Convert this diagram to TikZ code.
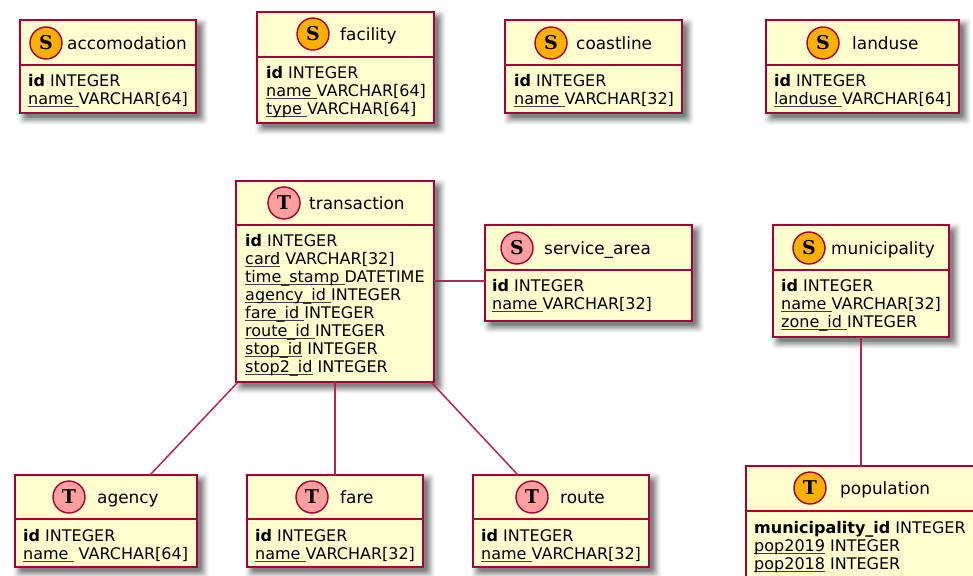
\documentclass[tikz,border=0pt]{standalone}
\usepackage{fontspec}
\setmainfont{DejaVu Sans}
\newfontfamily\spotfont{DejaVu Serif}
\usetikzlibrary{calc}
\definecolor{umlred}{HTML}{A80036}
\definecolor{umlfill}{HTML}{FEFECE}
\definecolor{spotS}{HTML}{FFB000}
\definecolor{spotT}{HTML}{FF9F9F}
\tikzset{
  entbox/.style={draw=umlred,fill=umlfill,line width=2.3pt,rectangle,inner sep=0pt,outer sep=0pt},
  spot/.style={circle,draw=umlred,line width=1.4pt,minimum size=32pt,inner sep=0pt,font=\spotfont\bfseries\fontsize{19}{19}\selectfont},
  titletext/.style={anchor=base west,inner sep=0pt,font=\fontsize{16.9}{18}\selectfont},
  bodytext/.style={anchor=base west,inner sep=0pt,font=\fontsize{16}{18}\selectfont},
  rel/.style={draw=umlred!85!white,line width=1.5pt},
}
\newlength{\ulwd}
\newcommand{\ul}[1]{\leavevmode\settowidth{\ulwd}{#1}\rlap{\color{black!75}\rule[-2.4pt]{\ulwd}{0.9pt}}#1}
% name, x1, y1, x2, y2, separator y
\newcommand{\entity}[6]{%
  \foreach \s/\o in {9/.025,8/.035,7/.05,6/.06,5/.07,4/.08,3/.09,2/.10,1/.11}{
    \fill[black,opacity=\o,rounded corners=3pt] (#2+5-\s+2,#3+5-\s+2) rectangle (#4+5+\s-2,#5+5+\s-2);
  }
  \node[entbox,minimum width={(#4-#2)*1pt},minimum height={(#5-#3)*1pt}] (#1) at ({(#2+#4)/2},{(#3+#5)/2}) {};
  \draw[umlred,line width=1.8pt] (#2,#6) -- (#4,#6);
}
\newcommand{\titleof}[4]{\node[titletext] (#1label) at (#2,#3+6.7) {#4};}
\newcommand{\bodyof}[4]{%
  \foreach \t [count=\i] in {#4}{
    \node[bodytext,name=#1line\i] at (#2,{#3+6.6+(\i-1)*18}) {\t};
  }
}
\begin{document}
\begin{tikzpicture}[x=1pt,y=-1pt]
\useasboundingbox (0,0) rectangle (973,575);
\clip (0,0) rectangle (973,575);
\fill[white] (0,0) rectangle (973,575);

\entity{accomodation}{20}{20}{196}{113}{65}
\node[spot,fill=spotS] (accomodationspot) at (46,43) {S};
\titleof{accomodation}{67}{43}{accomodation}
\bodyof{accomodation}{28}{80}{{\textbf{id} INTEGER},{\ul{name\ }VARCHAR[64]}}

\entity{facility}{257}{12}{434}{123}{57}
\node[spot,fill=spotS] (facilityspot) at (313,34) {S};
\titleof{facility}{340}{34}{facility}
\bodyof{facility}{266}{72}{{\textbf{id} INTEGER},{\ul{name\ }VARCHAR[64]},{\ul{type\ }VARCHAR[64]}}

\entity{coastline}{505}{20}{682}{113}{65}
\node[spot,fill=spotS] (coastlinespot) at (551,43) {S};
\titleof{coastline}{576}{43}{coastline}
\bodyof{coastline}{514}{80}{{\textbf{id} INTEGER},{\ul{name\ }VARCHAR[32]}}

\entity{landuse}{766}{20}{959}{113}{65}
\node[spot,fill=spotS] (landusespot) at (823,43) {S};
\titleof{landuse}{852}{43}{landuse}
\bodyof{landuse}{774}{80}{{\textbf{id} INTEGER},{\ul{landuse\ }VARCHAR[64]}}

\entity{transaction}{236}{181}{434}{382}{225}
\node[spot,fill=spotT] (transactionspot) at (284,203) {T};
\titleof{transaction}{309}{203}{transaction}
\bodyof{transaction}{245}{240}{{\textbf{id} INTEGER},{\ul{card} VARCHAR[32]},{\ul{time\_stamp\ }DATETIME},{\ul{agency\_id\ }INTEGER},{\ul{fare\_id\ }INTEGER},{\ul{route\_id\ }INTEGER},{\ul{stop\_id} INTEGER},{\ul{stop2\_id} INTEGER}}

\entity{servicearea}{485}{225}{692}{321}{270}
\node[spot,fill=spotT] (serviceareaspot) at (517,248) {S};
\titleof{servicearea}{544}{248}{service\_area}
\bodyof{servicearea}{492}{285}{{\textbf{id} INTEGER},{\ul{name\ }VARCHAR[32]}}

\entity{municipality}{773}{225}{949}{337}{270}
\node[spot,fill=spotS] (municipalityspot) at (809,248) {S};
\titleof{municipality}{831}{248}{municipality}
\bodyof{municipality}{781}{285}{{\textbf{id} INTEGER},{\ul{name\ }VARCHAR[32]},{\ul{zone\_id\ }INTEGER}}

\entity{agency}{15}{475}{197}{567}{519}
\node[spot,fill=spotT] (agencyspot) at (69,497) {T};
\titleof{agency}{97}{497}{agency}
\bodyof{agency}{23}{535}{{\textbf{id} INTEGER},{\ul{name\ }\ VARCHAR[64]}}

\entity{fare}{247}{475}{423}{567}{519}
\node[spot,fill=spotT] (farespot) at (312,497) {T};
\titleof{fare}{340}{497}{fare}
\bodyof{fare}{255}{535}{{\textbf{id} INTEGER},{\ul{name\ }VARCHAR[32]}}

\entity{route}{473}{475}{649}{567}{519}
\node[spot,fill=spotT] (routespot) at (532,497) {T};
\titleof{route}{560}{497}{route}
\bodyof{route}{481}{535}{{\textbf{id} INTEGER},{\ul{name\ }VARCHAR[32]}}

\entity{population}{746}{466}{1000}{600}{511}
\node[spot,fill=spotS] (populationspot) at (810,488) {T};
\titleof{population}{840}{488}{population}
\bodyof{population}{754}{527}{{\textbf{municipality\_id} INTEGER},{\ul{pop2019} INTEGER},{\ul{pop2018} INTEGER}}

\draw[rel] (transaction.east |- 0,281) -- (servicearea.west |- 0,281);
\draw[rel] ($(transaction.south west)+(2,0)$) -- ($(agency.north west)+(135,0)$);
\draw[rel] (transaction.south) -- (fare.north -| transaction.south);
\draw[rel] ($(transaction.south east)+(-3,0)$) -- ($(route.north west)+(45,0)$);
\draw[rel] (municipality.south) -- (population.north -| municipality.south);
\end{tikzpicture}
\end{document}
